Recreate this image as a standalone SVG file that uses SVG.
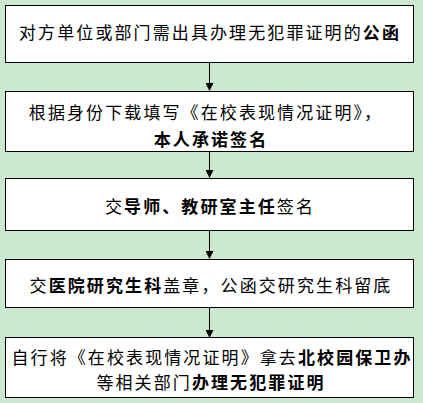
<svg xmlns="http://www.w3.org/2000/svg" width="423" height="403" viewBox="0 0 423 403">
<style>
.bg{fill:#cce8cf}
.box{fill:#fff;stroke:#000;stroke-width:1}
.t{font-family:"Noto Sans CJK SC","Noto Sans",sans-serif;font-size:17px;fill:#000;text-anchor:middle;letter-spacing:2.1px}
.b{font-weight:bold}
.c{stroke:#000;stroke-width:1;fill:none}
</style>
<defs>
<marker id="ah" markerWidth="8" markerHeight="8" refX="7" refY="4" orient="auto" markerUnits="userSpaceOnUse">
<path d="M0,0 L8,4 L0,8 Z" fill="#000"/>
</marker>
</defs>
<rect class="bg" x="0" y="0" width="423" height="403"/>
<g id="connectors">
<line class="c" x1="209.5" y1="62" x2="209.5" y2="90" marker-end="url(#ah)"/>
<line class="c" x1="209.5" y1="151" x2="209.5" y2="177" marker-end="url(#ah)"/>
<line class="c" x1="209.5" y1="230" x2="209.5" y2="258" marker-end="url(#ah)"/>
<line class="c" x1="209.5" y1="307" x2="209.5" y2="337" marker-end="url(#ah)"/>
</g>
<g id="n1">
<rect class="box" x="5.5" y="5.5" width="408" height="57"/>
<text class="t" x="210" y="39">对方单位或部门需出具办理无犯罪证明的<tspan class="b">公函</tspan></text>
</g>
<g id="n2">
<rect class="box" x="5.5" y="91.5" width="408" height="60"/>
<text class="t" x="206" y="119">根据身份下载填写《在校表现情况证明》，</text>
<text class="t b" x="211" y="146">本人承诺签名</text>
</g>
<g id="n3">
<rect class="box" x="5.5" y="178.5" width="408" height="52"/>
<text class="t" x="210" y="213">交<tspan class="b">导师、教研室主任</tspan>签名</text>
</g>
<g id="n4">
<rect class="box" x="5.5" y="259.5" width="408" height="48"/>
<text class="t" x="211" y="292">交<tspan class="b">医院研究生科</tspan>盖章，公函交研究生科留底</text>
</g>
<g id="n5">
<rect class="box" x="5.5" y="337.5" width="408" height="60"/>
<text class="t" x="212" y="364">自行将《在校表现情况证明》拿去<tspan class="b">北校园保卫办</tspan></text>
<text class="t" x="211" y="389">等相关部门<tspan class="b">办理无犯罪证明</tspan></text>
</g>
</svg>
